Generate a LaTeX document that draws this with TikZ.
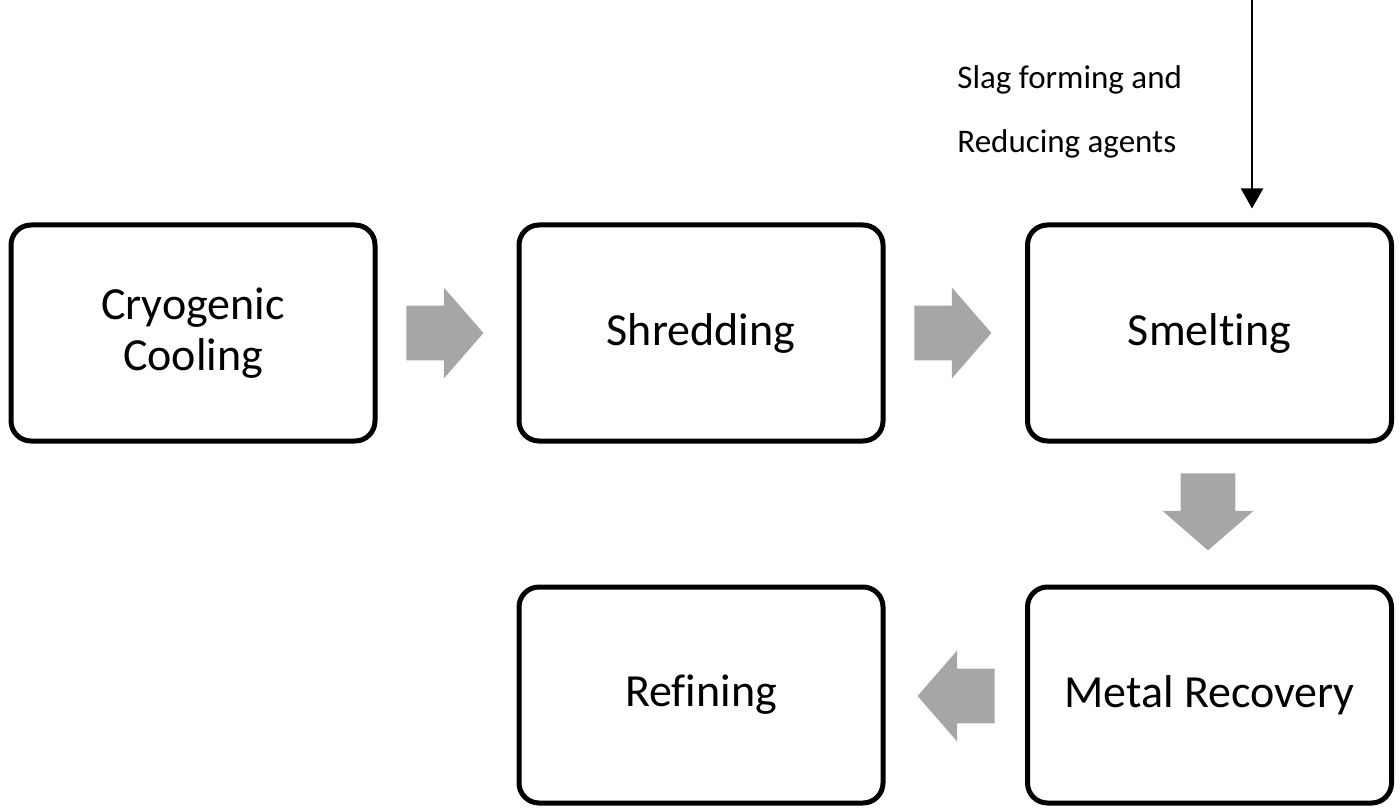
\documentclass[tikz,border=0pt]{standalone}
\usepackage{fontspec}
\setmainfont[Ligatures=NoCommon]{Carlito}
\usepackage{tikz}
\usetikzlibrary{shapes.arrows,arrows.meta}
\definecolor{grau}{HTML}{A6A6A6}

\begin{document}
\begin{tikzpicture}[x=0.5pt,y=-0.5pt]
	\tikzstyle{every node}=[font=\fontsize{23}{25.5}\selectfont]
	\tikzstyle{box}=[draw,line width=2.5pt,rounded corners=10pt,minimum width=182pt,minimum height=108pt,align=center,inner sep=0pt]
	\tikzstyle{pfeil}=[single arrow,fill=grau,draw=none,minimum height=38.5pt,single arrow head extend=9pt,single arrow tip angle=98,inner xsep=0pt,inner ysep=13.5pt,anchor=tail]
	\useasboundingbox (0,0) rectangle (1400,807);
	
	%Kästen
	\node[box] (cryo) at (193,333) {Cryogenic\\Cooling};
	\node[box] (shred) at (701,333) {Shredding};
	\node[box] (smelt) at (1209.5,333) {Smelting};
	\node[box] (recov) at (1209.5,695) {Metal Recovery};
	\node[box] (refin) at (701,695) {Refining};
	
	%graue Pfeile
	\node[pfeil] (a1) at (406,333) {};
	\node[pfeil] (a2) at (914,333) {};
	\node[pfeil,rotate=-90] (a3) at (1208,473) {};
	\node[pfeil,rotate=180] (a4) at (995,696) {};
	
	%Zugabe
	\coordinate (feed) at (1252,0);
	\draw[line width=1pt,-{Triangle[width=11pt,length=10pt]},shorten >=7pt] (feed) -- (feed |- smelt.north);
	\node[font=\fontsize{16.5}{32}\selectfont,align=left,anchor=west,inner sep=0pt] (agents) at (957,112) {Slag forming and\\Reducing agents};
	
\end{tikzpicture}
\end{document}
